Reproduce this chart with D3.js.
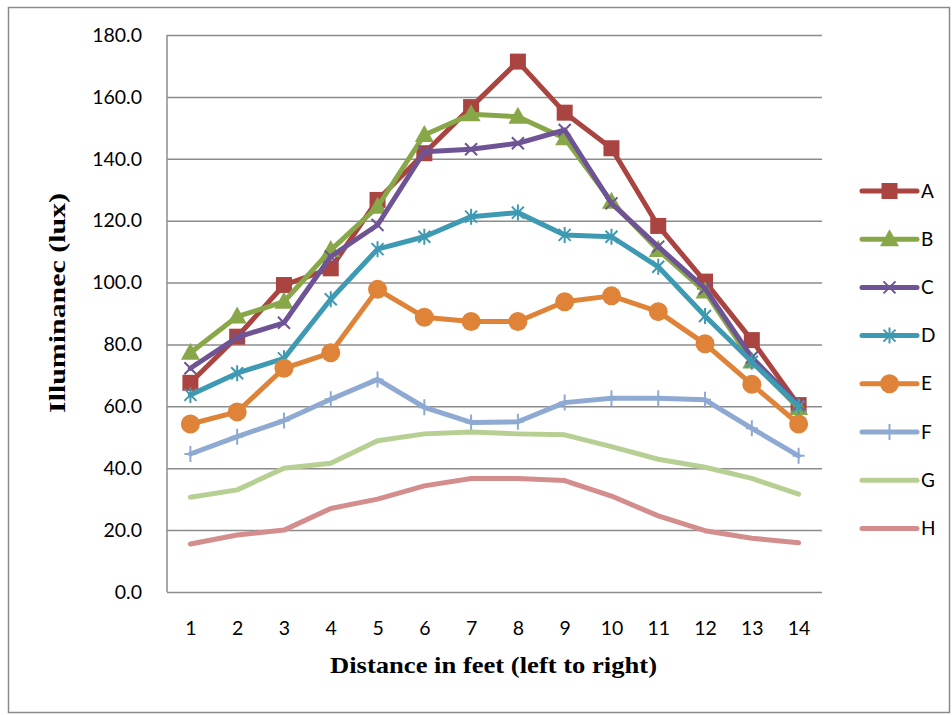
<!DOCTYPE html>
<html>
<head>
<meta charset="utf-8">
<script src="https://cdn.jsdelivr.net/npm/d3@7"></script>
<style>
  html, body { margin: 0; padding: 0; background: #fff; }
  svg { display: block; }
</style>
</head>
<body>
<div id="chart"></div>
<script>
// distance positions along the x axis
const distances = [1, 2, 3, 4, 5, 6, 7, 8, 9, 10, 11, 12, 13, 14];
const yTicks = [0, 20, 40, 60, 80, 100, 120, 140, 160, 180];

const seriesNames = ["A", "B", "C", "D", "E", "F", "G", "H"];
const valuesA = [67.6, 82.5, 99.2, 104.6, 126.7, 141.8, 156.7, 171.4, 154.9, 143.4, 118.3, 100.3, 81.4, 60.4];
const valuesB = [77.3, 89.0, 93.8, 110.5, 124.5, 147.7, 154.4, 153.6, 146.6, 126.1, 110.5, 97.1, 74.5, 59.5];
const valuesC = [72.3, 82.3, 87.0, 108.4, 118.6, 142.3, 143.1, 145.0, 149.3, 125.6, 111.6, 98.1, 75.8, 60.5];
const valuesD = [63.7, 70.7, 75.5, 94.6, 110.8, 114.8, 121.3, 122.6, 115.4, 114.8, 105.1, 89.2, 74.4, 59.9];
const valuesE = [54.3, 58.2, 72.3, 77.3, 97.8, 88.8, 87.4, 87.4, 93.8, 95.7, 90.6, 80.2, 67.1, 54.3];
const valuesF = [44.6, 50.2, 55.4, 62.3, 68.7, 59.7, 54.8, 55.0, 61.2, 62.6, 62.6, 62.1, 52.9, 44.0];
const valuesG = [30.6, 33.0, 40.0, 41.6, 48.9, 51.1, 51.7, 51.1, 50.8, 47.0, 42.9, 40.3, 36.7, 31.6];
const valuesH = [15.5, 18.4, 20.0, 27.0, 30.0, 34.3, 36.7, 36.7, 36.0, 31.0, 24.6, 19.8, 17.4, 15.9];

const allValues = [valuesA, valuesB, valuesC, valuesD, valuesE, valuesF, valuesG, valuesH];
const colors = ["#A94441", "#88A748", "#6E5494", "#3D9AB2", "#DE8337", "#8EA9D2", "#B7CF92", "#D48D8D"];
const markers = ["square", "triangle", "cross", "star", "circle", "plus", "none", "none"];

const W = 952, H = 715;
const margin = { top: 35, right: 130, bottom: 123, left: 167 };
const width = W - margin.left - margin.right,
  height = H - margin.top - margin.bottom;

const svg = d3.select("#chart")
  .append("svg")
  .attr("width", W)
  .attr("height", H);

// outer chart frame
svg.append("rect")
  .attr("x", 8.5).attr("y", 7.5)
  .attr("width", 941).attr("height", 705)
  .attr("fill", "none")
  .attr("stroke", "#8a8a8a")
  .attr("stroke-width", 1.5);

const g = svg.append("g")
  .attr("transform", `translate(${margin.left},${margin.top})`);

const x = d3.scalePoint()
  .domain(distances)
  .range([0, width])
  .padding(0.5);

const y = d3.scaleLinear()
  .domain([0, 180])
  .range([height, 0]);

// gridlines + y labels
const yAxis = g.append("g")
  .call(d3.axisLeft(y).tickValues(yTicks).tickSize(-width).tickPadding(25).tickFormat(d3.format(".1f")));
yAxis.select(".domain").remove();
yAxis.selectAll(".tick line")
  .attr("stroke", "#8c8c8c")
  .attr("stroke-width", 1.5);
yAxis.selectAll(".tick text")
  .attr("font-family", "Lato, 'Open Sans', sans-serif")
  .attr("font-size", 19.5)
  .attr("fill", "#000");

// left axis line
g.append("line")
  .attr("x1", 0).attr("x2", 0)
  .attr("y1", 0).attr("y2", height)
  .attr("stroke", "#8c8c8c")
  .attr("stroke-width", 1.5);

// x labels
const xAxis = g.append("g")
  .attr("transform", `translate(0,${height})`)
  .call(d3.axisBottom(x).tickSize(0).tickPadding(29));
xAxis.select(".domain").remove();
xAxis.selectAll(".tick text")
  .attr("font-family", "Lato, 'Open Sans', sans-serif")
  .attr("font-size", 19.5)
  .attr("fill", "#000");

const line = d3.line()
  .x((d, i) => x(distances[i]))
  .y(d => y(d));

function drawMarker(sel, type, color) {
  if (type === "square") {
    sel.append("rect").attr("x", -8).attr("y", -8).attr("width", 16).attr("height", 16).attr("fill", color);
  } else if (type === "triangle") {
    sel.append("path").attr("d", "M0,-10L9.5,7L-9.5,7Z").attr("fill", color);
  } else if (type === "circle") {
    sel.append("circle").attr("r", 9.5).attr("fill", color);
  } else if (type === "cross") {
    sel.append("path").attr("d", "M-6,-6L6,6M-6,6L6,-6").attr("stroke", color).attr("stroke-width", 2).attr("fill", "none");
  } else if (type === "star") {
    sel.append("path").attr("d", "M-6,-6L6,6M-6,6L6,-6M0,-8L0,8").attr("stroke", color).attr("stroke-width", 2).attr("fill", "none");
  } else if (type === "plus") {
    sel.append("path").attr("d", "M0,-8L0,8M-6,0L6,0").attr("stroke", color).attr("stroke-width", 2).attr("fill", "none");
  }
}

allValues.forEach((vals, si) => {
  const sg = g.append("g");
  sg.append("path")
    .datum(vals)
    .attr("fill", "none")
    .attr("stroke", colors[si])
    .attr("stroke-width", 5)
    .attr("stroke-linejoin", "round")
    .attr("stroke-linecap", "round")
    .attr("d", line);
  if (markers[si] !== "none") {
    sg.selectAll(".m")
      .data(vals)
      .join("g")
      .attr("class", "m")
      .attr("transform", (d, i) => `translate(${x(distances[i])},${y(d)})`)
      .each(function () { drawMarker(d3.select(this), markers[si], colors[si]); });
  }
});

// legend
const legend = svg.append("g").attr("transform", "translate(862,191)");
seriesNames.forEach((name, i) => {
  const lg = legend.append("g").attr("transform", `translate(0,${i * 48.2})`);
  lg.append("line")
    .attr("x1", 0).attr("x2", 55)
    .attr("stroke", colors[i])
    .attr("stroke-width", 5)
    .attr("stroke-linecap", "round");
  const mk = lg.append("g").attr("transform", "translate(27.5,0)");
  drawMarker(mk, markers[i], colors[i]);
  lg.append("text")
    .attr("x", 59)
    .attr("y", 0)
    .attr("dy", "0.35em")
    .attr("font-family", "Lato, 'Open Sans', sans-serif")
    .attr("font-size", 19)
    .text(name);
});

// axis titles
svg.append("text")
  .attr("x", 330)
  .attr("y", 673)
  .attr("textLength", 327)
  .attr("lengthAdjust", "spacingAndGlyphs")
  .attr("font-family", "'Liberation Serif', 'Times New Roman', serif")
  .attr("font-weight", "bold")
  .attr("font-size", 24)
  .text("Distance in feet (left to right)");

svg.append("text")
  .attr("transform", "translate(65,413) rotate(-90)")
  .attr("textLength", 220)
  .attr("lengthAdjust", "spacingAndGlyphs")
  .attr("font-family", "'Liberation Serif', 'Times New Roman', serif")
  .attr("font-weight", "bold")
  .attr("font-size", 24)
  .text("Illuminanec (lux)");
</script>
</body>
</html>
